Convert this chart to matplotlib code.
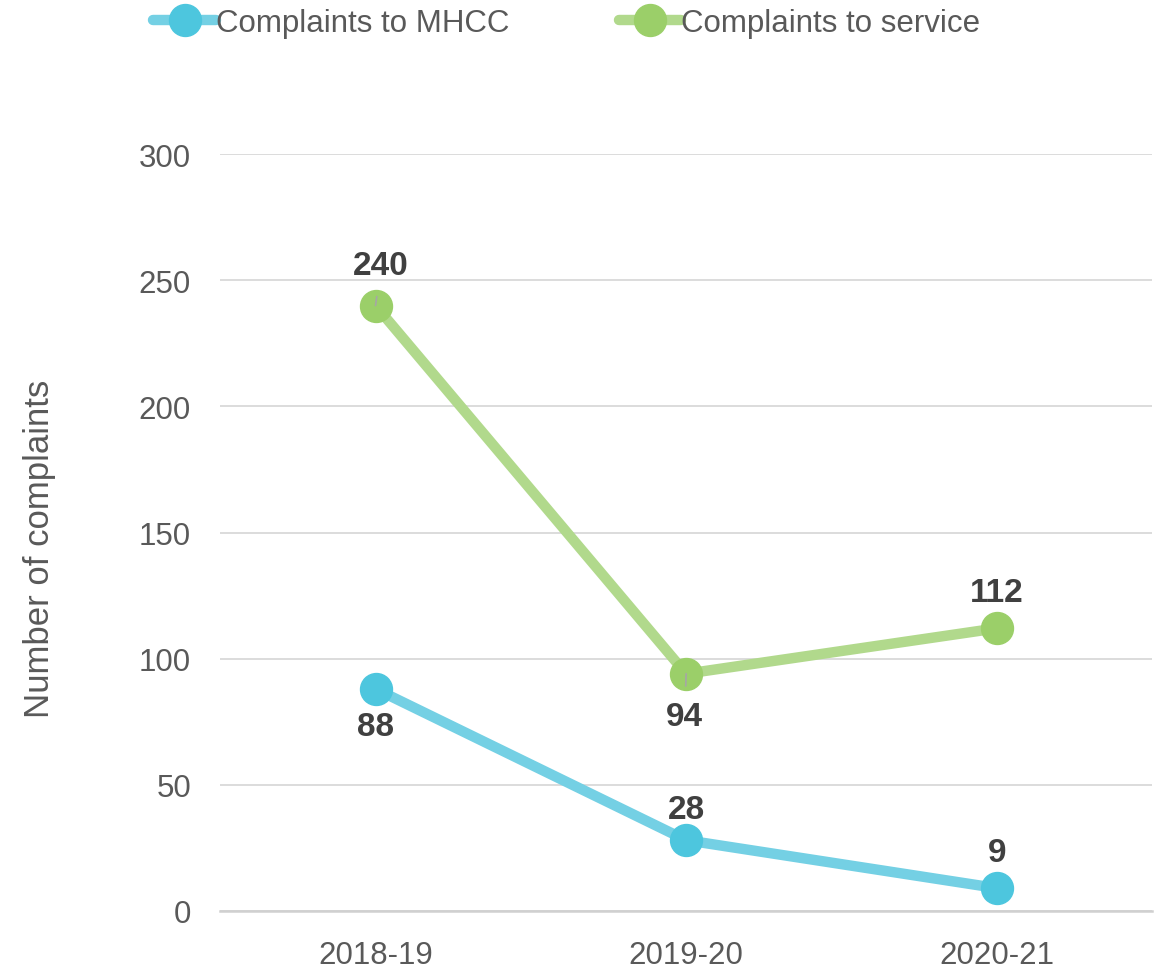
import matplotlib.pyplot as plt

years = ['2018-19', '2019-20', '2020-21']
mhcc = [88, 28, 9]
service = [240, 94, 112]
yticks = [0, 50, 100, 150, 200, 250, 300]

plt.rcParams['font.family'] = ['Liberation Sans', 'DejaVu Sans']

grey = '#595959'
dark = '#404040'

fig = plt.figure(figsize=(11.59, 9.70), dpi=100)
ax = fig.add_axes([0.19, 0.06, 0.804, 0.78])

x = range(len(years))
ax.plot(x, mhcc, color='#74d0e4', lw=7.5, marker='o', markersize=23,
        markerfacecolor='#4dc6de', markeredgecolor='#4dc6de',
        label='Complaints to MHCC', solid_capstyle='round', zorder=3)
ax.plot(x, service, color='#b1d98c', lw=7.5, marker='o', markersize=23,
        markerfacecolor='#9bcf69', markeredgecolor='#9bcf69',
        label='Complaints to service', solid_capstyle='round', zorder=3)

ax.set_xlim(-0.5, 2.5)
ax.set_ylim(0, 300)
ax.set_yticks(yticks)
ax.set_xticks(list(x))
ax.set_xticklabels(years)
ax.tick_params(axis='both', length=0, labelsize=22.5, labelcolor=grey)
ax.tick_params(axis='y', pad=21)
ax.tick_params(axis='x', pad=21)
ax.grid(axis='y', color='#d9d9d9', lw=1.3)
ax.set_axisbelow(True)
for s in ['top', 'right', 'left']:
    ax.spines[s].set_visible(False)
ax.spines['bottom'].set_color('#d0d0d0')
ax.spines['bottom'].set_linewidth(1.8)
ax.set_ylabel('Number of complaints', fontsize=25, color=grey)
ax.yaxis.set_label_coords(-0.176, 0.48)

lbl = dict(fontsize=24, fontweight='bold', color=dark, ha='center', va='center')
# MHCC labels
ax.annotate(str(mhcc[0]), (0, mhcc[0]), xytext=(0, -27), textcoords='offset points', **lbl)
ax.annotate(str(mhcc[1]), (1, mhcc[1]), xytext=(0, 22), textcoords='offset points', **lbl)
ax.annotate(str(mhcc[2]), (2, mhcc[2]), xytext=(0, 25.5), textcoords='offset points', **lbl)
# service labels, with small leader lines
ax.annotate(str(service[0]), (0, service[0]), xytext=(4, 28.5), textcoords='offset points',
            arrowprops=dict(arrowstyle='-', color='#a6a6a6', lw=1.2, shrinkA=9, shrinkB=0), **lbl)
ax.annotate(str(service[1]), (1, service[1]), xytext=(-1, -31), textcoords='offset points',
            arrowprops=dict(arrowstyle='-', color='#a6a6a6', lw=1.2, shrinkA=9, shrinkB=0), **lbl)
ax.annotate(str(service[2]), (2, service[2]), xytext=(0, 26), textcoords='offset points', **lbl)

fig.legend(loc='upper left', bbox_to_anchor=(0.108, 1.02), ncol=2, frameon=False,
           fontsize=22.5, labelcolor=grey, handlelength=2.0, handletextpad=0.0,
           columnspacing=3.5, markerscale=1.0)

fig.savefig('out.png', dpi=100)
